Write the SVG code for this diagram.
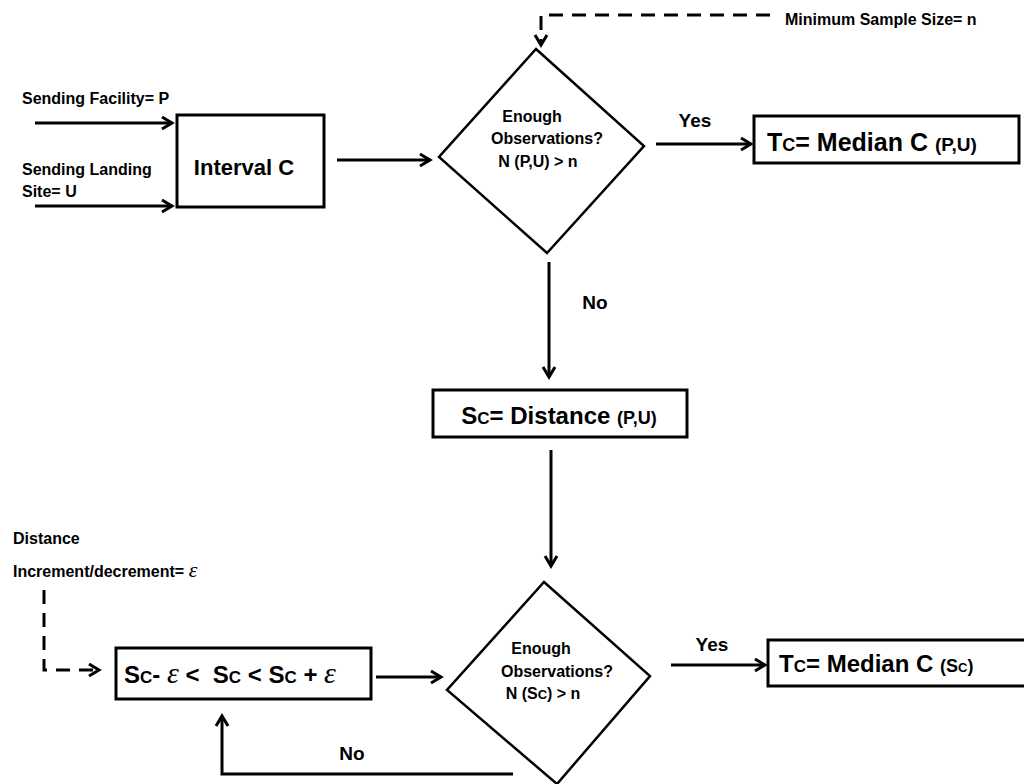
<svg xmlns="http://www.w3.org/2000/svg" width="1024" height="784" viewBox="0 0 1024 784">
<defs>
<style>
.box{fill:#fff;stroke:#000;stroke-width:3}
.dia{fill:#fff;stroke:#000;stroke-width:2.5;stroke-linejoin:miter}
.ln{fill:none;stroke:#000;stroke-width:3}
.dash{fill:none;stroke:#000;stroke-width:3;stroke-dasharray:14 9}
text{font-family:"Liberation Sans",Arial,sans-serif;font-weight:bold;fill:#000}
.s{font-size:16px}
.b{font-size:24px}
.lab{font-size:19px}
.eps{font-family:"Liberation Serif","DejaVu Serif",serif;font-style:italic;font-weight:normal}
</style>
<marker id="ah" markerUnits="userSpaceOnUse" markerWidth="14" markerHeight="16" refX="11" refY="7" orient="auto" viewBox="0 0 14 16" overflow="visible">
<path d="M1,1 L11,7 L1,13" fill="none" stroke="#000" stroke-width="3" stroke-dasharray="none"/>
</marker>
</defs>
<rect width="1024" height="784" fill="#fff"/>

<g id="connectors">
<line class="ln" x1="35" y1="123" x2="172" y2="123" marker-end="url(#ah)"/>
<line class="ln" x1="35" y1="206" x2="172" y2="206" marker-end="url(#ah)"/>
<line class="ln" x1="337" y1="160" x2="430" y2="160" marker-end="url(#ah)"/>
<line class="ln" x1="656" y1="144" x2="751" y2="144" marker-end="url(#ah)"/>
<line class="ln" x1="549" y1="262" x2="549" y2="377" marker-end="url(#ah)"/>
<line class="ln" x1="551" y1="450" x2="551" y2="566" marker-end="url(#ah)"/>
<line class="ln" x1="376" y1="677" x2="441" y2="677" marker-end="url(#ah)"/>
<line class="ln" x1="671" y1="665" x2="765" y2="665" marker-end="url(#ah)"/>
<polyline class="ln" points="513,774 222,774 222,716" marker-end="url(#ah)"/>
<polyline class="dash" points="770,15 541,15 541,45" marker-end="url(#ah)"/>
<polyline class="dash" points="44,590 44,670 99,670" marker-end="url(#ah)"/>
</g>

<g id="label-min"><text class="s" x="785" y="25">Minimum Sample Size= n</text></g>
<g id="label-facility"><text class="s" x="22" y="104">Sending Facility= P</text></g>
<g id="label-landing"><text class="s" x="22" y="175">Sending Landing</text><text class="s" x="22" y="197">Site= U</text></g>
<g id="label-distance"><text class="s" x="13" y="544">Distance</text><text class="s" x="13" y="577">Increment/decrement= <tspan class="eps" font-size="22">ε</tspan></text></g>

<g id="interval">
<rect class="box" x="177" y="115" width="147" height="92"/>
<text x="244" y="175" font-size="22" text-anchor="middle">Interval C</text>
</g>

<g id="decision1">
<polygon class="dia" points="536,49 644,146 547,253 439,157"/>
<text class="s" x="532" y="122" text-anchor="middle">Enough</text>
<text class="s" x="547" y="144" text-anchor="middle">Observations?</text>
<text class="s" x="538" y="167" text-anchor="middle">N (P,U) &gt; n</text>
</g>

<g id="result1">
<rect class="box" x="754" y="116" width="265" height="47"/>
<text x="767" y="151" font-size="25">T<tspan font-size="18">C</tspan>= Median C <tspan font-size="19">(P,U)</tspan></text>
</g>

<g id="distance">
<rect class="box" x="433" y="390" width="254" height="47"/>
<text x="559" y="424" font-size="24" text-anchor="middle">S<tspan font-size="17">C</tspan>= Distance <tspan font-size="18">(P,U)</tspan></text>
</g>

<g id="range">
<rect class="box" x="116" y="648" width="255" height="51"/>
<text x="124" y="683" font-size="24" xml:space="preserve">S<tspan font-size="17">C</tspan>- <tspan class="eps" font-size="30">ε</tspan> &lt;  S<tspan font-size="17">C</tspan> &lt; S<tspan font-size="17">C</tspan> + <tspan class="eps" font-size="30">ε</tspan></text>
</g>

<g id="decision2">
<polygon class="dia" points="544,582 650,676 557,784 447,690"/>
<text class="s" x="541" y="654" text-anchor="middle">Enough</text>
<text class="s" x="557" y="677" text-anchor="middle">Observations?</text>
<text class="s" x="543" y="699" text-anchor="middle">N (S<tspan font-size="13">C</tspan>) &gt; n</text>
</g>

<g id="result2">
<rect class="box" x="768" y="640" width="264" height="46"/>
<text x="779" y="672" font-size="24">T<tspan font-size="17">C</tspan>= Median C <tspan font-size="18">(S<tspan font-size="13">C</tspan>)</tspan></text>
</g>

<g id="labels">
<text class="lab" x="695" y="127" text-anchor="middle">Yes</text>
<text class="lab" x="712" y="651" text-anchor="middle">Yes</text>
<text class="lab" x="595" y="309" text-anchor="middle">No</text>
<text class="lab" x="352" y="760" text-anchor="middle">No</text>
</g>
</svg>
